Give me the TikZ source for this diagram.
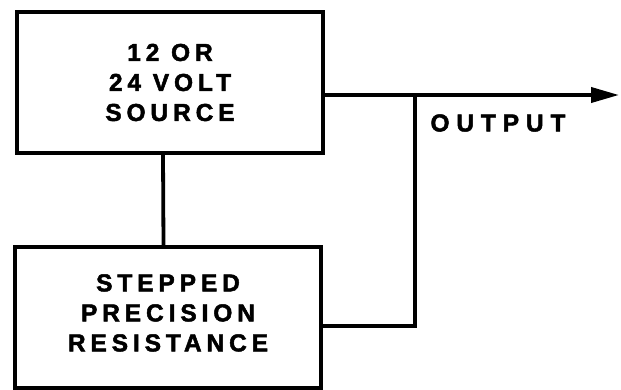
\documentclass[tikz,border=0pt]{standalone}
\usepackage{fontspec}
\newfontfamily\lblfont[LetterSpace=20,FakeBold=2]{Liberation Sans Bold}
\newfontfamily\outfont[LetterSpace=28,FakeBold=2]{Liberation Sans Bold}
\usetikzlibrary{positioning,arrows.meta}
\tikzset{block/.style={draw,line width=3.8pt,minimum width=306pt,minimum height=141pt,align=center,font=\lblfont\fontsize{24.5}{30}\selectfont},wire/.style={draw,line width=3.8pt},lbl/.style={font=\outfont\fontsize{24.5}{30}\selectfont,inner sep=0pt}}
\begin{document}
\begin{tikzpicture}[x=1pt,y=1pt,node distance=90pt]
\useasboundingbox (0,0) rectangle (621,389);
\node[block] (src) at (170,306.5) {12 OR\\24 VOLT\\SOURCE};
\node[block,below=of src.south,anchor=north,xshift=-2pt,text depth=9pt] (res) {STEPPED\\PRECISION\\RESISTANCE};
\coordinate (tap) at (415,294);
\coordinate (out) at (619,294);
\node[lbl] (outlbl) at (498,266) {OUTPUT};
\draw[wire] ([xshift=-7pt]src.south) -- ([xshift=-4.5pt]res.north);
\draw[wire,-{Triangle[length=28pt,width=15pt]}] ([yshift=-12.5pt]src.east) -- (out);
\draw[wire] ([yshift=-9pt]res.east) -| (tap);
\end{tikzpicture}
\end{document}
